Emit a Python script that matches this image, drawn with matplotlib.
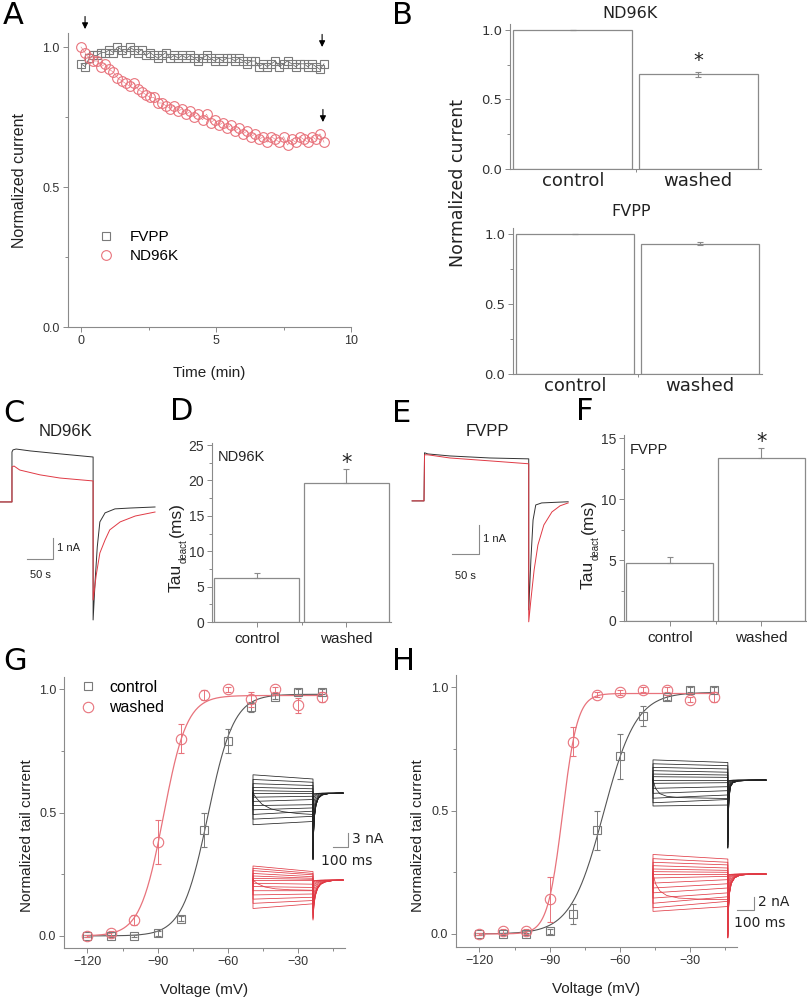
import numpy as np
import matplotlib
matplotlib.use("Agg")
import matplotlib.pyplot as plt
from matplotlib.ticker import MultipleLocator, FormatStrFormatter, FixedLocator
from matplotlib.lines import Line2D

# ---------------- data ----------------
# A: run-down of normalized current (min)
a_time = [0.0, 0.15, 0.3, 0.45, 0.6, 0.75, 0.9, 1.05, 1.2, 1.35, 1.5, 1.65, 1.8, 1.95, 2.1,
          2.25, 2.4, 2.55, 2.7, 2.85, 3.0, 3.15, 3.3, 3.45, 3.6, 3.75, 3.9, 4.05, 4.2, 4.35,
          4.5, 4.65, 4.8, 4.95, 5.1, 5.25, 5.4, 5.55, 5.7, 5.85, 6.0, 6.15, 6.3, 6.45, 6.6,
          6.75, 6.9, 7.05, 7.2, 7.35, 7.5, 7.65, 7.8, 7.95, 8.1, 8.25, 8.4, 8.55, 8.7, 8.85, 9.0]
a_fvpp = [0.94, 0.93, 0.96, 0.97, 0.97, 0.98, 0.98, 0.99, 0.98, 1.00, 0.99, 0.98, 1.00, 0.99, 0.98,
          0.99, 0.97, 0.98, 0.97, 0.96, 0.97, 0.98, 0.96, 0.97, 0.96, 0.97, 0.96, 0.97, 0.96, 0.95,
          0.96, 0.97, 0.96, 0.95, 0.96, 0.95, 0.96, 0.96, 0.95, 0.96, 0.95, 0.94, 0.95, 0.95, 0.93,
          0.94, 0.93, 0.94, 0.95, 0.93, 0.94, 0.95, 0.94, 0.93, 0.94, 0.94, 0.93, 0.94, 0.93, 0.92, 0.94]
a_nd96k = [1.00, 0.98, 0.96, 0.95, 0.95, 0.93, 0.94, 0.92, 0.91, 0.89, 0.88, 0.87, 0.86, 0.87, 0.85,
           0.84, 0.83, 0.82, 0.82, 0.80, 0.80, 0.79, 0.78, 0.79, 0.77, 0.78, 0.76, 0.77, 0.75, 0.76,
           0.74, 0.76, 0.73, 0.74, 0.72, 0.73, 0.71, 0.72, 0.70, 0.71, 0.69, 0.70, 0.68, 0.69, 0.67,
           0.68, 0.66, 0.68, 0.67, 0.66, 0.68, 0.65, 0.67, 0.66, 0.68, 0.67, 0.66, 0.68, 0.67, 0.69, 0.66]
a_arrow_t = [0.15, 8.93, 8.96]
a_arrow_tip = [1.064, 1.0, 0.732]

# B, D, F: bar values
groups = ["control", "washed"]
b_nd96k = [1.0, 0.68]
b_nd96k_err = [0.0, 0.02]
b_fvpp = [1.0, 0.93]
b_fvpp_err = [0.0, 0.01]
d_tau = [6.2, 19.6]
d_err = [0.75, 2.0]
f_tau = [4.75, 13.36]
f_err = [0.5, 0.8]

# C / E: current traces (ms, nA)
c_black_t = [-23, 0, 0, 2, 8, 35, 92, 156, 156, 160, 164, 169, 179, 198, 227, 275]
c_black = [0, 0, 2.38, 2.48, 2.52, 2.43, 2.29, 2.14, -5.62, -3.71, -2.14, -0.95, -0.52, -0.33, -0.29, -0.24]
c_red_t = [-23, 0, 0, 4, 15, 54, 92, 156, 156, 162, 169, 179, 188, 208, 237, 275]
c_red = [0, 0, 1.67, 1.71, 1.52, 1.29, 1.14, 1.0, -4.67, -3.48, -2.43, -1.81, -1.33, -0.95, -0.67, -0.48]
e_black_t = [-22, 0, 1, 7, 48, 122, 194, 194, 198, 202, 207, 218, 267]
e_black = [0, 0, 1.66, 1.62, 1.55, 1.48, 1.45, -3.76, -2.03, -0.66, -0.14, -0.07, -0.03]
e_red_t = [-22, 0, 1, 7, 48, 122, 194, 194, 198, 204, 211, 222, 237, 252, 267]
e_red = [0, 0, 1.59, 1.59, 1.48, 1.38, 1.28, -4.17, -3.41, -2.38, -1.52, -0.83, -0.38, -0.17, -0.07]

# G / H: activation curves
volt = [-120, -110, -100, -90, -80, -70, -60, -50, -40, -30, -20]
g_ctrl = [0.0, 0.0, 0.0, 0.01, 0.07, 0.43, 0.79, 0.93, 0.97, 0.99, 0.99]
g_ctrl_err = [0.005, 0.005, 0.005, 0.01, 0.01, 0.07, 0.05, 0.02, 0.01, 0.01, 0.01]
g_wash = [0.0, 0.01, 0.065, 0.38, 0.80, 0.976, 1.0, 0.96, 1.0, 0.935, 0.97]
g_wash_err = [0.005, 0.01, 0.02, 0.09, 0.06, 0.02, 0.01, 0.03, 0.01, 0.03, 0.02]
g_fit_ctrl = (-68.5, 5.5, 0.98)   # V1/2, slope, max
g_fit_wash = (-87.5, 5.0, 0.975)
h_ctrl = [0.0, 0.0, 0.0, 0.01, 0.08, 0.42, 0.72, 0.885, 0.96, 0.99, 0.99]
h_ctrl_err = [0.005, 0.005, 0.005, 0.01, 0.04, 0.08, 0.09, 0.04, 0.01, 0.01, 0.01]
h_wash = [0.0, 0.01, 0.01, 0.14, 0.78, 0.97, 0.98, 0.99, 0.99, 0.95, 0.96]
h_wash_err = [0.005, 0.01, 0.01, 0.09, 0.06, 0.01, 0.01, 0.01, 0.01, 0.01, 0.02]
h_fit_ctrl = (-67.0, 7.0, 0.98)
h_fit_wash = (-84.5, 3.2, 0.975)

# G / H insets: current families (nA), onset / end of step / tail peak
g_blk_on = [3.9, 2.9, 2.0, 1.2, 0.5, -0.9, -1.8, -2.7, -3.6, -4.6, -5.6, -6.8]
g_blk_end = [3.0, 2.3, 1.6, 0.9, 0.3, -0.7, -1.4, -2.5, -3.2, -3.9, -5.0, -6.1]
g_blk_tail = [-14.3, -14.2, -14.0, -13.8, -13.5, -13.0, -12.0, -10.0, -7.0, -4.0, -2.0, -1.0]
g_blk_act_t = [0, 20, 60, 120, 200, 300, 400]
g_blk_act = [0, -1.0, -2.4, -3.4, -4.0, -4.4, -4.6]
g_blk_tail_t = [0, 4, 10, 20, 35, 60, 100, 200]
g_blk_tail_f = [1, 0.6, 0.35, 0.18, 0.08, 0.03, 0.01, 0]

g_red_on = [3.0, 2.5, 2.0, 1.4, 0.86, 0.36, -0.7, -1.4, -2.3, -3.2, -4.1, -5.0, -6.1]
g_red_end = [1.8, 1.4, 1.1, 0.7, 0.36, 0.14, -0.9, -1.6, -2.3, -3.0, -3.7, -4.4, -5.1]
g_red_tail = [-8.6, -8.4, -8.2, -8.0, -7.5, -7.0, -6.0, -4.5, -3.0, -2.0, -1.2, -0.6, -0.3]
g_red_act_t = [0, 30, 80, 150, 250, 400]
g_red_act = [0, -0.8, -1.5, -1.9, -2.1, -2.2]
g_red_tail_t = [0, 6, 15, 30, 50, 80, 130, 200]
g_red_tail_f = [1, 0.65, 0.4, 0.22, 0.11, 0.05, 0.015, 0]

h_blk_on = [3.1, 2.5, 1.95, 1.44, 0.92, 0.51, -0.51, -1.28, -2.05, -2.8, -3.5, -4.0]
h_blk_end = [2.7, 2.2, 1.7, 1.2, 0.77, 0.41, -0.41, -1.03, -1.64, -2.3, -3.0, -3.85]
h_blk_tail = [-10.5, -10.3, -10.0, -9.5, -9.0, -8.0, -6.5, -5.0, -3.5, -2.0, -1.0, -0.5]
h_blk_act_t = [0, 15, 40, 80, 150, 440]
h_blk_act = [0, -1.3, -2.1, -2.5, -2.7, -2.85]
h_blk_tail_t = [0, 3, 8, 15, 30, 60, 120, 224]
h_blk_tail_f = [1, 0.5, 0.25, 0.1, 0.04, 0.015, 0.005, 0]

h_red_on = [3.0, 2.36, 1.8, 1.28, 0.77, 0.36, -0.62, -1.4, -2.15, -2.9, -3.7, -4.5, -5.2, -5.75]
h_red_end = [2.3, 1.8, 1.4, 0.92, 0.56, 0.26, -0.36, -0.87, -1.5, -2.15, -2.9, -3.5, -4.2, -5.0]
h_red_tail = [-9.85, -9.7, -9.5, -9.3, -9.0, -8.5, -7.5, -6.0, -4.5, -3.0, -2.0, -1.2, -0.6, -0.3]
h_red_act_t = [0, 15, 40, 80, 150, 300, 440]
h_red_act = [0, -1.5, -2.6, -3.3, -3.7, -3.9, -3.95]
h_red_tail_t = [0, 4, 10, 20, 40, 70, 120, 224]
h_red_tail_f = [1, 0.55, 0.3, 0.15, 0.06, 0.02, 0.005, 0]

# ---------------- style ----------------
W, H = 807, 999
NARROW = ["Liberation Sans", "DejaVu Sans"]
WIDE = ["DejaVu Sans"]
AXIS = "#8a8a8a"
GRAY = "#7a7a7a"
RED = "#e8737c"
TRACE_RED = "#e03a45"
TXT = "#222222"

plt.rcParams["font.family"] = NARROW

fig = plt.figure(figsize=(W / 100, H / 100), dpi=100)


def px_axes(left, top, right, bottom):
    return fig.add_axes([left / W, 1 - bottom / H, (right - left) / W, (bottom - top) / H])


def fig_text(x, y, s, **kw):
    kw.setdefault("color", TXT)
    fig.text(x / W, 1 - y / H, s, **kw)


def style(ax, size, family):
    for s in ("top", "right"):
        ax.spines[s].set_visible(False)
    for s in ("left", "bottom"):
        ax.spines[s].set_color(AXIS)
        ax.spines[s].set_linewidth(0.8)
    ax.tick_params(which="both", direction="out", color=AXIS, width=0.7,
                   labelcolor="#333333", labelsize=size, labelfontfamily=family)
    ax.tick_params(which="major", length=3.5, pad=2)
    ax.tick_params(which="minor", length=2)


def bars(ax, vals, errs, only_up=False):
    x = np.arange(len(vals))
    yerr = [[0] * len(errs), errs] if only_up else errs
    ax.bar(x, vals, width=0.95, color="white", edgecolor=AXIS, linewidth=0.9,
           yerr=yerr, error_kw=dict(ecolor=AXIS, elinewidth=0.8, capsize=2, capthick=0.8))
    ax.set_xlim(-0.5, 1.5)
    ax.set_xticks(x)
    ax.xaxis.set_minor_locator(FixedLocator([0.5]))


def boltz(v, p):
    return p[2] / (1 + np.exp((p[0] - v) / p[1]))


def tau_label(x, y_tau, x_sub, y_sub, y_ms):
    fig_text(x, y_tau, "Tau", rotation=90, ha="center", va="center", fontsize=12.5)
    fig_text(x_sub, y_sub, "deact", rotation=90, ha="center", va="center", fontsize=7)
    fig_text(x, y_ms, "(ms)", rotation=90, ha="center", va="center", fontsize=12.5)


# ---------------- A ----------------
axA = px_axes(67.5, 33, 351, 327)
style(axA, 9, NARROW)
axA.plot(a_time, a_fvpp, color="#555555", lw=0.5, marker="s", ms=5.5, mfc="none",
         mec=GRAY, mew=0.8, clip_on=False)
axA.plot(a_time, a_nd96k, color=RED, lw=0.4, marker="o", ms=7, mfc="none",
         mec=RED, mew=0.8, clip_on=False)
for t, tip in zip(a_arrow_t, a_arrow_tip):
    axA.annotate("", xy=(t, tip), xytext=(t, tip + 0.045), annotation_clip=False,
                 arrowprops=dict(arrowstyle="-|>", color="k", lw=0.8, mutation_scale=9,
                                 shrinkA=0, shrinkB=0))
axA.set_xlim(-0.5, 10)
axA.set_ylim(0, 1.05)
axA.xaxis.set_major_locator(FixedLocator([0, 5, 10]))
axA.xaxis.set_minor_locator(FixedLocator([2.5, 7.5]))
axA.yaxis.set_major_locator(MultipleLocator(0.5))
axA.yaxis.set_minor_locator(MultipleLocator(0.25))
axA.yaxis.set_major_formatter(FormatStrFormatter("%.1f"))
axA.set_xlabel("Time (min)", fontsize=11, color=TXT, labelpad=14)
axA.set_ylabel("Normalized current", fontsize=11.5, color=TXT)
axA.yaxis.set_label_coords(-0.143, 0.5)
axA.legend(handles=[Line2D([], [], ls="none", marker="s", ms=5.5, mfc="none", mec=GRAY, mew=0.8),
                    Line2D([], [], ls="none", marker="o", ms=7, mfc="none", mec=RED, mew=0.8)],
           labels=["FVPP", "ND96K"], loc="upper left", bbox_to_anchor=(0.105, 0.33),
           frameon=False, fontsize=11, handlelength=1.2, handletextpad=0.9,
           labelspacing=0.35, borderpad=0, borderaxespad=0)

# ---------------- B ----------------
for top, bottom, left, right, vals, errs, title, ty, star in [
        (24.4, 169, 510, 761, b_nd96k, b_nd96k_err, "ND96K", 13, True),
        (228.4, 374, 513, 762, b_fvpp, b_fvpp_err, "FVPP", 212, False)]:
    ax = px_axes(left, top, right, bottom)
    style(ax, 9.5, WIDE)
    bars(ax, vals, errs)
    ax.set_ylim(0, 1.04)
    ax.yaxis.set_major_locator(MultipleLocator(0.5))
    ax.yaxis.set_minor_locator(MultipleLocator(0.25))
    ax.yaxis.set_major_formatter(FormatStrFormatter("%.1f"))
    ax.set_xticklabels(groups, fontsize=13, family=WIDE, color=TXT)
    ax.tick_params(axis="x", which="major", length=0, pad=2)
    if star:
        ax.text(1, vals[1] + errs[1] + 0.08, "*", ha="center", va="center",
                fontsize=14, family=WIDE, color=TXT)
    fig_text((left + right) / 2 - 6, ty, title, ha="center", va="center",
             fontsize=11.5, family=WIDE)
fig_text(458, 183, "Normalized current", rotation=90, ha="center", va="center",
         fontsize=12.5, family=WIDE)

# ---------------- C / E traces ----------------
for left, right, xl, yl, series, sb, title, tx in [
        (0, 160, (-23, 284.6), (-5.86, 2.95),
         [(c_black_t, c_black, "#333333"), (c_red_t, c_red, TRACE_RED)],
         (79, -2.71, -1.71), "ND96K", 66),
        (405, 575, (-35.2, 279.7), (-4.28, 2.10),
         [(e_black_t, e_black, "#333333"), (e_red_t, e_red, TRACE_RED)],
         (102, -1.83, -0.83), "FVPP", 487)]:
    ax = px_axes(left, 440, right, 625)
    ax.axis("off")
    ax.set_xlim(*xl)
    ax.set_ylim(*yl)
    for t, i, col in series:
        ax.plot(t, i, color=col, lw=0.7)
    bx, by, btop = sb
    ax.plot([bx - 50, bx, bx], [by, by, btop], color=AXIS, lw=0.8)
    ax.text(bx + 7, (by + btop) / 2, "1 nA", ha="left", va="center", fontsize=8, color=TXT)
    ax.text(bx - 25, by - 0.75, "50 s", ha="center", va="center", fontsize=8, color=TXT)
    fig_text(tx, 432, title, ha="center", va="center", fontsize=12)

# ---------------- D / F ----------------
for left, right, top, bottom, vals, errs, ymax, name, lab in [
        (212, 391, 442.9, 622, d_tau, d_err, 25.3, "ND96K", (176, 578, 184, 551, 520)),
        (624, 807, 435, 621, f_tau, f_err, 15.25, "FVPP", (588, 575, 596, 548, 517))]:
    ax = px_axes(left, top, right, bottom)
    style(ax, 10, NARROW)
    bars(ax, vals, errs, only_up=True)
    ax.set_ylim(0, ymax)
    ax.yaxis.set_major_locator(MultipleLocator(5))
    ax.yaxis.set_minor_locator(MultipleLocator(2.5))
    ax.set_xticklabels(groups, fontsize=11, color=TXT)
    ax.tick_params(axis="x", which="major", pad=4)
    ax.text(1, vals[1] + errs[1] + ymax * 0.035, "*", ha="center", va="center",
            fontsize=15, family=WIDE, color=TXT)
    ax.text(0.03, 0.92, name, transform=ax.transAxes, ha="left", va="center",
            fontsize=10.5, color=TXT)
    tau_label(*lab)

# ---------------- G / H ----------------
def family(ax, on, end, tail, act_t, act, tail_t, tail_f, step, col):
    for o, e, tl in zip(on, end, tail):
        t = [0, 0, step, step] + [step + tt for tt in tail_t]
        i = [0, o, e, tl] + [tl * f for f in tail_f]
        ax.plot(t, i, color=col, lw=0.55)
    ax.plot(act_t, act, color=col, lw=0.55)


for (left, right, top, bottom, yl, ctrl, cerr, wash, werr, fc, fw,
     inset, label_x) in [
        (64, 345, 677, 948, (-0.049, 1.05), g_ctrl, g_ctrl_err, g_wash, g_wash_err,
         g_fit_ctrl, g_fit_wash, "G", 27),
        (456, 737, 675, 947, (-0.053, 1.05), h_ctrl, h_ctrl_err, h_wash, h_wash_err,
         h_fit_ctrl, h_fit_wash, "H", 418)]:
    ax = px_axes(left, top, right, bottom)
    style(ax, 9, NARROW)
    vv = np.linspace(-120, -20, 200)
    ax.plot(vv, boltz(vv, fc), color="#555555", lw=0.8)
    ax.plot(vv, boltz(vv, fw), color=RED, lw=0.9)
    ax.errorbar(volt, ctrl, yerr=cerr, fmt="s", ms=6, mfc="none", mec=GRAY, mew=0.8,
                ecolor=GRAY, elinewidth=0.7, capsize=2)
    ax.errorbar(volt, wash, yerr=werr, fmt="o", ms=7.5, mfc="none", mec=RED, mew=0.8,
                ecolor=RED, elinewidth=0.7, capsize=2)
    ax.set_xlim(-130, -10)
    ax.set_ylim(*yl)
    ax.xaxis.set_major_locator(FixedLocator([-120, -90, -60, -30]))
    ax.xaxis.set_minor_locator(FixedLocator([-105, -75, -45, -15]))
    ax.yaxis.set_major_locator(MultipleLocator(0.5))
    ax.yaxis.set_minor_locator(MultipleLocator(0.25))
    ax.yaxis.set_major_formatter(FormatStrFormatter("%.1f"))
    ax.set_xlabel("Voltage (mV)", fontsize=11, color=TXT, labelpad=11)
    fig_text(label_x, 836, "Normalized tail current", rotation=90, ha="center",
             va="center", fontsize=11)
    if inset == "G":
        ax.legend(handles=[Line2D([], [], ls="none", marker="s", ms=6, mfc="none", mec=GRAY, mew=0.8),
                           Line2D([], [], ls="none", marker="o", ms=7.5, mfc="none", mec=RED, mew=0.8)],
                  labels=["control", "washed"], loc="upper left", bbox_to_anchor=(0.05, 0.99),
                  frameon=False, handlelength=1.2, handletextpad=0.75,
                  labelspacing=0.35, borderpad=0, borderaxespad=0, prop={"size": 11.5})

# insets for G
axg1 = px_axes(245, 765, 385, 870)
axg1.axis("off")
axg1.set_xlim(-53.3, 880)
axg1.set_ylim(-16.5, 6.0)
family(axg1, g_blk_on, g_blk_end, g_blk_tail, g_blk_act_t, g_blk_act,
       g_blk_tail_t, g_blk_tail_f, 400, "#222222")
axg1.plot([0, 600], [0, 0], color="#222222", lw=0.55)
axg1.plot([533, 633, 633], [-11.57, -11.57, -8.57], color=AXIS, lw=0.8)
axg1.text(660, -9.85, "3 nA", ha="left", va="center", fontsize=10, family=WIDE, color=TXT)
axg1.text(627, -14.56, "100 ms", ha="center", va="center", fontsize=10, family=WIDE, color=TXT)

axg2 = px_axes(245, 855, 385, 925)
axg2.axis("off")
axg2.set_xlim(-53.3, 880)
axg2.set_ylim(-9.64, 5.35)
family(axg2, g_red_on, g_red_end, g_red_tail, g_red_act_t, g_red_act,
       g_red_tail_t, g_red_tail_f, 400, TRACE_RED)
axg2.plot([0, 600], [0, 0], color=TRACE_RED, lw=0.55)

# insets for H
axh1 = px_axes(645, 750, 800, 855)
axh1.axis("off")
axh1.set_xlim(-47, 864)
axh1.set_ylim(-11.54, 4.62)
family(axh1, h_blk_on, h_blk_end, h_blk_tail, h_blk_act_t, h_blk_act,
       h_blk_tail_t, h_blk_tail_f, 440, "#222222")
axh1.plot([0, 664], [0, 0], color="#222222", lw=0.55)

axh2 = px_axes(645, 845, 800, 945)
axh2.axis("off")
axh2.set_xlim(-47, 864)
axh2.set_ylim(-10.92, 4.46)
family(axh2, h_red_on, h_red_end, h_red_tail, h_red_act_t, h_red_act,
       h_red_tail_t, h_red_tail_f, 440, TRACE_RED)
axh2.plot([0, 664], [0, 0], color=TRACE_RED, lw=0.55)
axh2.plot([494, 594, 594], [-5.54, -5.54, -3.54], color=AXIS, lw=0.8)
axh2.text(617, -4.3, "2 nA", ha="left", va="center", fontsize=10, family=WIDE, color=TXT)
axh2.text(629, -7.54, "100 ms", ha="center", va="center", fontsize=10, family=WIDE, color=TXT)

# panel letters
for letter, x, y in [("A", 3, 16), ("B", 392, 16), ("C", 3, 413), ("D", 170, 412),
                     ("E", 392, 413), ("F", 576, 412), ("G", 3, 662), ("H", 392, 662)]:
    fig_text(x, y, letter, ha="left", va="center", fontsize=22, family=WIDE, color="black")

fig.savefig("out.png", dpi=100)
